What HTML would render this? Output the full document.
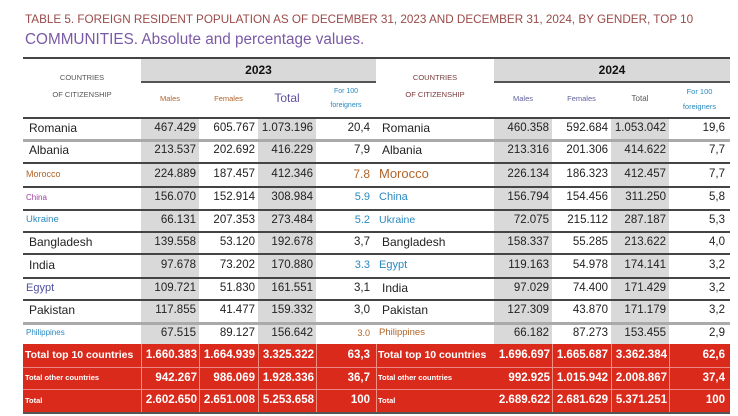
<!DOCTYPE html>
<html><head><meta charset="utf-8">
<style>
body{margin:0;width:738px;height:416px;background:#fff;position:relative;overflow:hidden;font-family:"Liberation Sans",sans-serif}
.a{position:absolute;white-space:nowrap}
.t1{left:25px;top:13px;font-size:11.7px;color:#9a4a48}
.t2{left:25px;top:31px;font-size:15.3px;color:#7a5aa5}
</style></head><body>
<div class="a t1">TABLE 5. FOREIGN RESIDENT POPULATION AS OF DECEMBER 31, 2023 AND DECEMBER 31, 2024, BY GENDER, TOP 10</div>
<div class="a t2">COMMUNITIES. Absolute and percentage values.</div>
<div id="tbl"></div>
<script>
const countries23=["Romania","Albania","Morocco","China","Ukraine","Bangladesh","India","Egypt","Pakistan","Philippines"];
const males23=["467.429","213.537","224.889","156.070","66.131","139.558","97.678","109.721","117.855","67.515"];
const females23=["605.767","202.692","187.457","152.914","207.353","53.120","73.202","51.830","41.477","89.127"];
const totals23=["1.073.196","416.229","412.346","308.984","273.484","192.678","170.880","161.551","159.332","156.642"];
const pct23=["20,4","7,9","7.8","5.9","5.2","3,7","3.3","3,1","3,0","3.0"];
const countries24=["Romania","Albania","Morocco","China","Ukraine","Bangladesh","Egypt","India","Pakistan","Philippines"];
const males24=["460.358","213.316","226.134","156.794","72.075","158.337","119.163","97.029","127.309","66.182"];
const females24=["592.684","201.306","186.323","154.456","215.112","55.285","54.978","74.400","43.870","87.273"];
const totals24=["1.053.042","414.622","412.457","311.250","287.187","213.622","174.141","171.429","171.179","153.455"];
const pct24=["19,6","7,7","7,7","5,8","5,3","4,0","3,2","3,2","3,2","2,9"];
const sumLabels=["Total top 10 countries","Total other countries","Total"];
const sum23=[["1.660.383","1.664.939","3.325.322","63,3"],["942.267","986.069","1.928.336","36,7"],["2.602.650","2.651.008","5.253.658","100"]];
const sum24=[["1.696.697","1.665.687","3.362.384","62,6"],["992.925","1.015.942","2.008.867","37,4"],["2.689.622","2.681.629","5.371.251","100"]];

const T=document.getElementById('tbl');
function box(x,y,w,h,bg,name){const d=document.createElement('div');d.className='a';d.style.cssText=`left:${x}px;top:${y}px;width:${w}px;height:${h}px;background:${bg}`;


T.appendChild(d);return d;}
function txt(x,y,w,h,s,css,name,align){const d=document.createElement('div');d.className='a';d.textContent=s;d.style.cssText=`left:${x}px;top:${y}px;width:${w}px;height:${h}px;line-height:${h}px;text-align:${align||'right'};font-size:11.5px;color:#222;${css||''}`;


T.appendChild(d);return d;}
const rowY=[117,139,162,186,209,231,253,277,299,322,344];
const redY=[344,367,389,412];
const L={c:23,m:141,f:199,t:258,p:316,e:376};
const R={c:376,m:494,f:552,t:611,p:669,e:730};
box(141,58,235,24,'#d9d9d9','year-band-2023');
box(494,58,236,24,'#d9d9d9','year-band-2024');
[[L.m,L.f],[L.t,L.p],[R.m,R.f],[R.t,R.p]].forEach(([a,b])=>box(a,117,b-a,227,'#d9d9d9','shaded-column'));
box(23,344,707,68,'#d92a1c','totals-band');
box(23,57,707,2,'#444','top-rule');
box(141,81,235,2,'#555','year-rule');box(494,81,236,2,'#555','year-rule');
for(let i=0;i<10;i++){box(23,rowY[i],707,(i==1||i==9)?3:1.5,(i==1||i==9)?'#aaa':'#444','row-rule');}
box(23,367,707,1,'#e88','total-rule');box(23,389,707,1,'#e88','total-rule');box(23,412,707,2,'#555','bottom-rule');
[L.m,L.f,L.t,L.p,R.c,R.f,R.t,R.p].forEach(x=>box(x,344,1,68,'#f09080','total-col-rule'));
function hdr(C,year,cc){txt(C.m,58,C.e-C.m,24,year,'font-weight:bold;font-size:12px;color:#111','year-label','center');
txt(C.c,72,118,12,'COUNTRIES',`font-size:7.5px;color:${cc}`,'countries-header','center');
txt(C.c,89,118,12,'OF CITIZENSHIP',`font-size:7.5px;color:${cc}`,'citizenship-header','center');}
hdr(L,'2023','#555');hdr(R,'2024','#7a3a3a');
txt(L.m,92,58,14,'Males','font-size:7.5px;color:#b0652a','males-header','center');
txt(L.f,92,59,14,'Females','font-size:7.5px;color:#b0652a','females-header','center');
txt(L.t,90,58,16,'Total','font-size:12px;color:#6050a0','total-header','center');
txt(L.p,86,60,12,'For 100','font-size:7px;color:#2a8ac0','per100-header','center');
txt(L.p,100,60,12,'foreigners','font-size:7px;color:#2a8ac0','per100-header','center');
txt(R.m,92,58,14,'Males','font-size:7.5px;color:#6060a0','males-header','center');
txt(R.f,92,59,14,'Females','font-size:7.5px;color:#6060a0','females-header','center');
txt(R.t,92,58,14,'Total','font-size:8px;color:#555','total-header','center');
txt(R.p,86,61,12,'For 100','font-size:7.5px;color:#2a8ac0','per100-header','center');
txt(R.p,101,61,12,'foreigners','font-size:7.5px;color:#2a8ac0','per100-header','center');
const styleL={Morocco:'font-size:9px;color:#b0652a',China:'font-size:8px;color:#a040a0',Ukraine:'font-size:9.5px;color:#2a8ac0',Egypt:'font-size:11px;color:#5050a0',Philippines:'font-size:8px;color:#2a8ac0'};
const styleR={Morocco:'font-size:13px;color:#b0652a',China:'font-size:11px;color:#2a8ac0',Ukraine:'font-size:10.5px;color:#2a8ac0',Egypt:'font-size:11px;color:#2a8ac0',Philippines:'font-size:9.5px;color:#b0652a'};
const pctStyleL=['','','font-size:12px;color:#b0652a','font-size:11px;color:#2a8ac0','font-size:11px;color:#2a8ac0','','font-size:11px;color:#2a8ac0','','','font-size:9px;color:#b0652a'];
for(let i=0;i<10;i++){const y=rowY[i],h=rowY[i+1]-y;
 const cl=countries23[i];const ind=styleL[cl]?3:6;
 txt(L.c+ind,y,110,h,cl,'font-size:12px;'+(styleL[cl]||''),`country-2023-${i}`,'left');
 txt(L.m,y,55,h,males23[i],'',`males-2023-${i}`);
 txt(L.f,y,56,h,females23[i],'',`females-2023-${i}`);
 txt(L.t,y,55,h,totals23[i],'',`total-2023-${i}`);
 txt(L.p,y,54,h,pct23[i],pctStyleL[i],`per100-2023-${i}`);
 const cr=countries24[i];const ir=styleR[cr]?3:6;
 txt(R.c+ir,y,112,h,cr,'font-size:12px;'+(styleR[cr]||''),`country-2024-${i}`,'left');
 txt(R.m,y,55,h,males24[i],'',`males-2024-${i}`);
 txt(R.f,y,56,h,females24[i],'',`females-2024-${i}`);
 txt(R.t,y,55,h,totals24[i],'',`total-2024-${i}`);
 txt(R.p,y,56,h,pct24[i],'',`per100-2024-${i}`);
}
const sumSize=['10.5px','7.5px','7.5px'];
for(let i=0;i<3;i++){const y=redY[i],h=redY[i+1]-y;const w='color:#fff;font-weight:bold;';
 txt(L.c+2,y,116,h,sumLabels[i],w+'font-size:'+sumSize[i],'summary-label-2023','left');
 txt(R.c+2,y,116,h,sumLabels[i],w+'font-size:'+sumSize[i],'summary-label-2024','left');
 [L.m,L.f,L.t].forEach((x,j)=>txt(x,y,56,h,sum23[i][j],w,'summary-2023'));
 txt(L.p,y,54,h,sum23[i][3],w,'summary-pct-2023');
 [R.m,R.f,R.t].forEach((x,j)=>txt(x,y,56,h,sum24[i][j],w,'summary-2024'));
 txt(R.p,y,56,h,sum24[i][3],w,'summary-pct-2024');
}
</script>
</body></html>
